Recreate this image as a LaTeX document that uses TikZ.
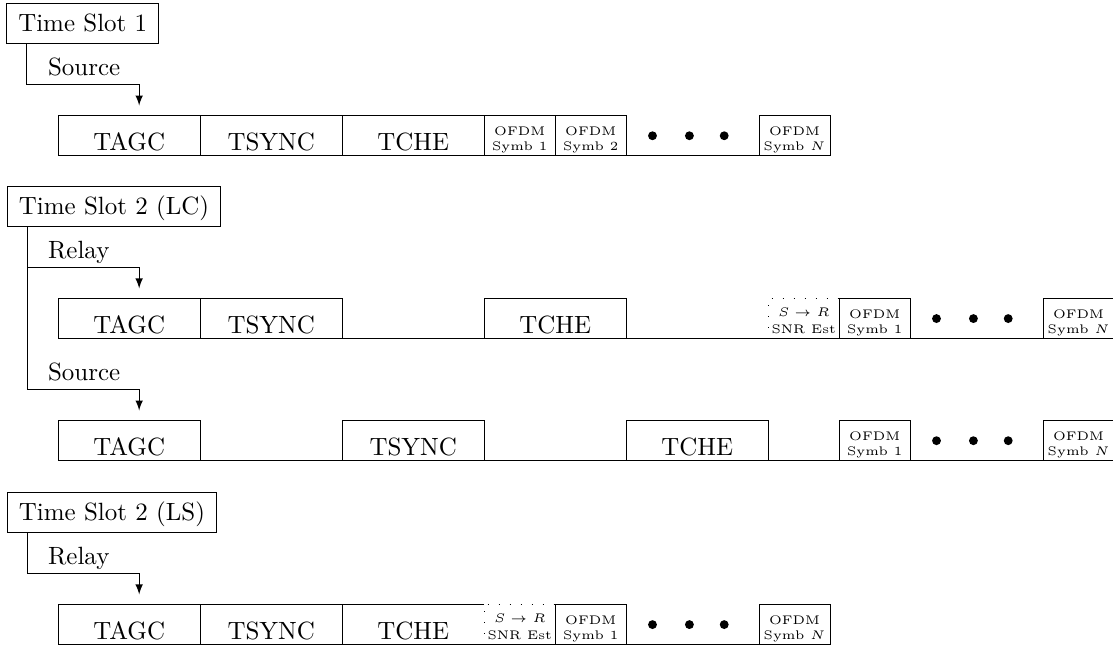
\documentclass[tikz,border=0pt]{standalone}
\usepackage{amsmath}
\usepackage{tikz}
\usetikzlibrary{calc,positioning}
\tikzset{
  slotbox/.style={draw,anchor=south west,minimum height=16pt,inner xsep=4.7pt,inner ysep=3pt,text height=8.2pt,text depth=1.8pt},
  field/.style={draw,minimum width=2cm,minimum height=0.57cm,inner sep=0pt,outer sep=0pt,text height=12.2pt,text depth=0pt},
  symb/.style={field,minimum width=1cm,font=\tiny,align=center},
  snrbox/.style={symb,draw=none},
  bulletdot/.style={circle,fill,inner sep=0pt,minimum size=0.125cm},
  branch/.style={anchor=base west,inner sep=0pt}
}
\def\drawDots#1#2{
  \node[bulletdot] (#1a) at ($(#2.east)+(0.37,0)$) {};
  \node[bulletdot] (#1b) at ($(#2.east)+(0.89,0)$) {};
  \node[bulletdot] (#1c) at ($(#2.east)+(1.38,0)$) {};
}
\def\drawBranch#1#2#3#4{
  \draw[-latex] ([xshift=0.29cm]#1.south west) |- ($(#2)+(0,0.29)$) -- (#2);
  \node[branch] (#3) at ($(#2)+(-1.29,0.42)$) {#4};
}

\begin{document}
\begin{tikzpicture}
  \useasboundingbox (0,0) rectangle (15.676,9.127);

  % time slot 1
  \node[slotbox] (slot1) at (0.085,8.507) {Time Slot 1};
  \node[field,anchor=south west] (r1tagc) at (0.82,6.93) {TAGC};
  \node[field,right=0pt of r1tagc] (r1tsync) {TSYNC};
  \node[field,right=0pt of r1tsync] (r1tche) {TCHE};
  \node[symb,right=0pt of r1tche] (r1sa) {OFDM\\Symb 1};
  \node[symb,right=0pt of r1sa] (r1sb) {OFDM\\Symb 2};
  \node[symb,right=1.87cm of r1sb] (r1sn) {OFDM\\Symb $N$};
  \draw (r1sb.south east) -- (r1sn.south west);
  \drawDots{r1d}{r1sb}
  \coordinate (t1) at ($(r1tagc.north west)+(1.14,0.14)$);
  \drawBranch{slot1}{t1}{src1}{Source}

  % time slot 2, LC
  \node[slotbox] (slot2) at (0.094,5.93) {Time Slot 2 (LC)};
  \node[field,anchor=south west] (r2tagc) at (0.82,4.355) {TAGC};
  \node[field,right=0pt of r2tagc] (r2tsync) {TSYNC};
  \node[field,right=2cm of r2tsync] (r2tche) {TCHE};
  \node[snrbox,right=2cm of r2tche] (r2snr) {$S\to R$\\[1pt]SNR Est};
  \node[symb,right=0pt of r2snr] (r2sa) {OFDM\\Symb 1};
  \node[symb,right=1.87cm of r2sa] (r2sn) {OFDM\\Symb $N$};
  \draw (r2tsync.south east) -- (r2tche.south west);
  \draw (r2tche.south east) -- (r2sa.south west);
  \draw (r2sa.south east) -- (r2sn.south west);
  \draw[loosely dotted] (r2snr.south west) -- (r2snr.north west) -- (r2snr.north east);
  \drawDots{r2d}{r2sa}
  \coordinate (t2) at ($(r2tagc.north west)+(1.14,0.14)$);
  \drawBranch{slot2}{t2}{rel2}{Relay}

  \node[field,anchor=south west] (r3tagc) at (0.82,2.635) {TAGC};
  \node[field,right=2cm of r3tagc] (r3tsync) {TSYNC};
  \node[field,right=2cm of r3tsync] (r3tche) {TCHE};
  \node[symb,right=1cm of r3tche] (r3sa) {OFDM\\Symb 1};
  \node[symb,right=1.87cm of r3sa] (r3sn) {OFDM\\Symb $N$};
  \draw (r3tagc.south east) -- (r3tsync.south west);
  \draw (r3tsync.south east) -- (r3tche.south west);
  \draw (r3tche.south east) -- (r3sa.south west);
  \draw (r3sa.south east) -- (r3sn.south west);
  \drawDots{r3d}{r3sa}
  \coordinate (t3) at ($(r3tagc.north west)+(1.14,0.14)$);
  \drawBranch{slot2}{t3}{src3}{Source}

  % time slot 2, LS
  \node[slotbox] (slot3) at (0.094,1.62) {Time Slot 2 (LS)};
  \node[field,anchor=south west] (r4tagc) at (0.82,0.045) {TAGC};
  \node[field,right=0pt of r4tagc] (r4tsync) {TSYNC};
  \node[field,draw=none,right=0pt of r4tsync] (r4tche) {TCHE};
  \node[snrbox,right=0pt of r4tche] (r4snr) {$S\to R$\\[1pt]SNR Est};
  \node[symb,right=0pt of r4snr] (r4sa) {OFDM\\Symb 1};
  \node[symb,right=1.87cm of r4sa] (r4sn) {OFDM\\Symb $N$};
  \draw (r4tche.north east) -- (r4tche.north west) -- (r4tche.south west) -- (r4tche.south east);
  \draw (r4tche.south east) -- (r4sa.south west);
  \draw (r4sa.south east) -- (r4sn.south west);
  \draw[loosely dotted] (r4snr.south west) -- (r4snr.north west) -- (r4snr.north east);
  \drawDots{r4d}{r4sa}
  \coordinate (t4) at ($(r4tagc.north west)+(1.14,0.14)$);
  \drawBranch{slot3}{t4}{rel4}{Relay}
\end{tikzpicture}
\end{document}
